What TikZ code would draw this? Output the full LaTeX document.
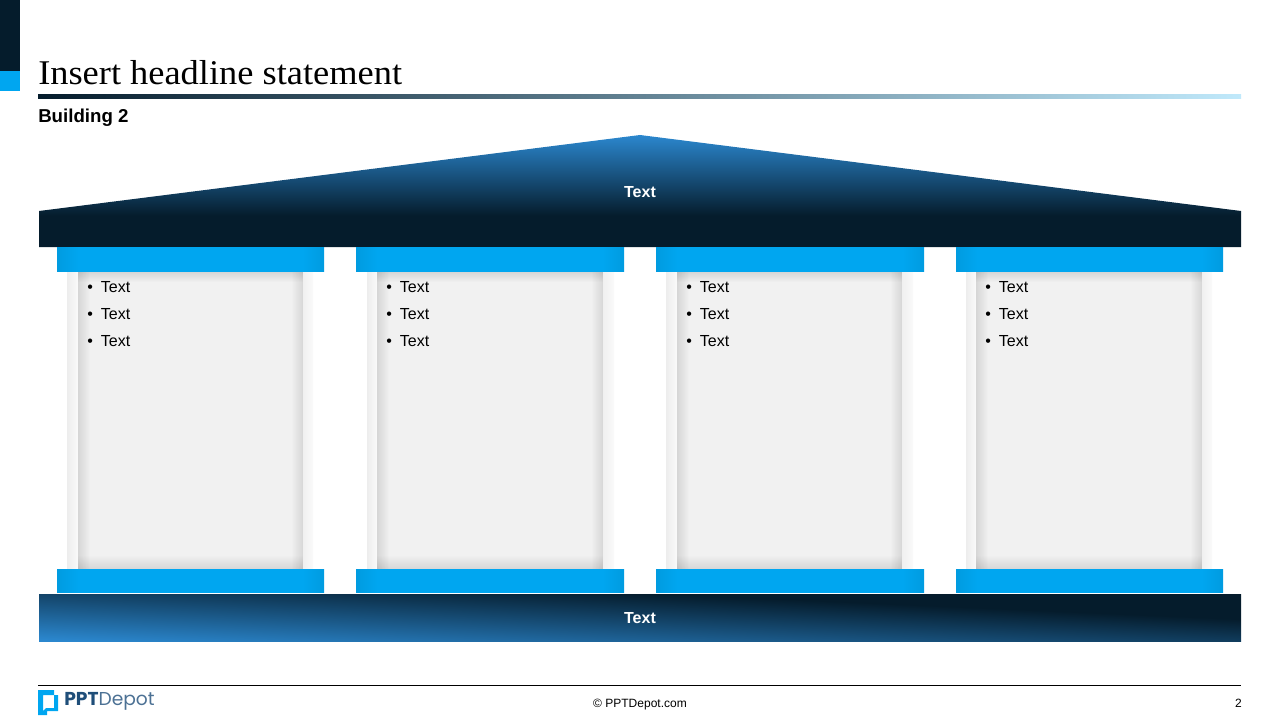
\documentclass[tikz,border=0pt]{standalone}
\usepackage{fontspec}
\usetikzlibrary{fadings}
\setmainfont{Liberation Sans}
\newfontfamily\headfont[FakeStretch=1.05]{Liberation Serif}
\newfontfamily\logofont{Poppins}
\definecolor{navyd}{HTML}{051C2C}
\definecolor{blued}{HTML}{2B87CE}
\definecolor{cyand}{HTML}{00A6F0}
\definecolor{cyane}{HTML}{009BE0}
\definecolor{panelg}{HTML}{F1F1F1}
\definecolor{logob}{HTML}{1F4E79}
\definecolor{rulemid}{HTML}{4E8CB5}
\definecolor{ruleend}{HTML}{C0E9FB}
\pgfdeclareverticalshading{roofshade}{100bp}{color(0bp)=(navyd); color(25bp)=(navyd); color(39bp)=(navyd); color(75bp)=(blued); color(100bp)=(blued)}
\pgfdeclareverticalshading{barshade}{100bp}{color(0bp)=(blued); color(25bp)=(blued); color(63bp)=(navyd); color(75bp)=(navyd); color(100bp)=(navyd)}
\pgfdeclarehorizontalshading{capshade}{100bp}{color(0bp)=(cyane); color(25bp)=(cyane); color(29bp)=(cyand); color(71bp)=(cyand); color(75bp)=(cyane); color(100bp)=(cyane)}
\tikzset{
    bartext/.style={text=white,font=\bfseries\fontsize{12}{14}\selectfont,inner sep=0pt},
    itemtext/.style={anchor=west,inner sep=0pt,font=\fontsize{12}{14}\selectfont},
    capital/.style={shading=capshade},
    edgeshadow/.style={fill=black,fill opacity=0.11},
    footertext/.style={anchor=base,inner sep=0pt,font=\fontsize{9}{11}\selectfont}
}
\begin{document}
\begin{tikzpicture}[x=0.75pt,y=-0.75pt]
    \useasboundingbox (0,0) rectangle (1280,720);
    \fill[navyd] (0,0) rectangle (20,71);
    \fill[cyand] (0,71) rectangle (20,91);
    \path (38,73) node[anchor=west,inner sep=0pt,font=\headfont\fontsize{26}{30}\selectfont] (headline) {Insert headline statement};
    \shade[left color=navyd,middle color=rulemid,right color=ruleend] (38,95) rectangle (1241,99);
    \path (38,117.5) node[anchor=west,inner sep=0pt,font=\bfseries\fontsize{14}{16}\selectfont] (subhead) {Building 2};
    \shade[shading=roofshade] (640,135) -- (1241,211) -- (1241,247) -- (39,247) -- (39,211) -- cycle;
    \node[bartext] (roof) at (640,192.5) {Text};
    \foreach \c/\xa/\xb/\xc/\xd/\xe/\xf in {1/57/67/78/303/313/324,2/356/367/377/603/614/624,3/656/666/677/902/913/924,4/956/966/976/1202/1212/1223}{
        \shade[left color=black!7,right color=black!2] (\xb,272) rectangle (\xc,569);
        \shade[left color=black!6,right color=black!2] (\xd,272) rectangle (\xe,569);
        \fill[panelg] (\xc,272) rectangle (\xd,569);
        \fill[edgeshadow,path fading=south] (\xc,272) rectangle (\xd,282);
        \fill[edgeshadow,path fading=north] (\xc,555) rectangle (\xd,569);
        \fill[edgeshadow,path fading=east] (\xc,272) rectangle (\xc+12,569);
        \fill[edgeshadow,path fading=west] (\xd-12,272) rectangle (\xd,569);
        \shade[capital] (\xa,247) rectangle (\xf,271.8);
        \shade[capital] (\xa,569) rectangle (\xf,592.7);
        \foreach \r/\y in {1/287.5,2/314.5,3/341.5}{
            \node[itemtext] (item\c\r) at (\xc+9,\y) {•\hspace{6pt}Text};
        }
    }
    \shade[shading=barshade,shading angle=-2.5] (39,594) rectangle (1241,641.7);
    \node[bartext] (base) at (640,618.5) {Text};
    \draw[line width=0.75pt] (38,685.5) -- (1241,685.5);
    \fill[cyand,even odd rule] (38,690) -- (54,690) -- (54,695) -- (58,695) -- (58,711) -- (47,711) -- (47,715) -- (38,715) -- cycle
        (43,695) -- (54,695) -- (54,708) -- (46,708) -- (43,711) -- cycle;
    \path (64,701.5) node[anchor=west,inner sep=0pt,text=logob,font=\logofont\fontsize{14}{16}\selectfont] (logo) {\textbf{PPT}\textcolor{logob!80!white}{Depot}};
    \node[footertext] (site) at (640,707) {© PPTDepot.com};
    \node[footertext,anchor=base east] (page) at (1242,707) {2};
\end{tikzpicture}
\end{document}
